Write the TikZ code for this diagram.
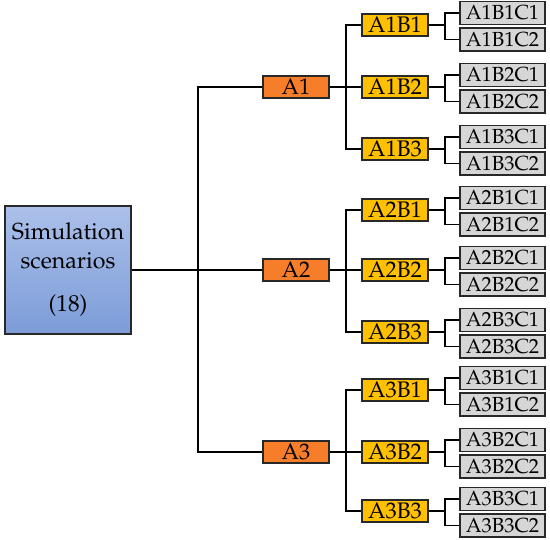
\documentclass[tikz,border=0pt]{standalone}
\usepackage[T1]{fontenc}
\usepackage{mathpazo}
\definecolor{rootTop}{RGB}{172,192,234}
\definecolor{rootBot}{RGB}{124,156,216}
\definecolor{aFill}{RGB}{246,125,42}
\definecolor{bFill}{RGB}{255,192,0}
\definecolor{cFill}{RGB}{214,214,214}
\definecolor{boxLine}{RGB}{40,40,40}
\tikzset{
  rootbox/.style={draw=boxLine, line width=1pt, top color=rootTop, bottom color=rootBot,
    minimum width=2.52cm, minimum height=2.56cm, align=center, inner sep=0pt,
    font=\fontsize{13.2}{16}\selectfont},
  abox/.style={draw=boxLine, line width=1pt, fill=aFill, minimum width=1.32cm,
    minimum height=0.44cm, inner sep=0pt, font=\fontsize{12.8}{14}\selectfont},
  bbox/.style={abox, fill=bFill},
  cbox/.style={abox, fill=cFill, minimum width=1.70cm, minimum height=0.46cm,
    font=\fontsize{11.6}{14}\selectfont},
  link/.style={draw=black, line width=1.1pt}
}
\begin{document}
\begin{tikzpicture}
  \useasboundingbox (0.00, 0.00) rectangle (11.00, -10.80);
  % root
  \node[rootbox] (sim) at (1.36, -5.40) {Simulation\\scenarios\\[9pt](18)};
  % first level
  \node[abox] (a1) at (5.92, -1.74) {A1};
  \node[abox] (a2) at (5.92, -5.40) {A2};
  \node[abox] (a3) at (5.92, -9.04) {A3};
  % second level
  \node[bbox] (a1b1) at (7.90, -0.50) {A1B1};
  \node[bbox] (a1b2) at (7.90, -1.74) {A1B2};
  \node[bbox] (a1b3) at (7.90, -2.98) {A1B3};
  \node[bbox] (a2b1) at (7.90, -4.20) {A2B1};
  \node[bbox] (a2b2) at (7.90, -5.40) {A2B2};
  \node[bbox] (a2b3) at (7.90, -6.64) {A2B3};
  \node[bbox] (a3b1) at (7.90, -7.80) {A3B1};
  \node[bbox] (a3b2) at (7.90, -9.04) {A3B2};
  \node[bbox] (a3b3) at (7.90, -10.22) {A3B3};
  % third level
  \node[cbox] (a1b1c1) at (10.05, -0.26) {A1B1C1};
  \node[cbox] (a1b1c2) at (10.05, -0.79) {A1B1C2};
  \node[cbox] (a1b2c1) at (10.05, -1.50) {A1B2C1};
  \node[cbox] (a1b2c2) at (10.05, -2.03) {A1B2C2};
  \node[cbox] (a1b3c1) at (10.05, -2.74) {A1B3C1};
  \node[cbox] (a1b3c2) at (10.05, -3.27) {A1B3C2};
  \node[cbox] (a2b1c1) at (10.05, -3.96) {A2B1C1};
  \node[cbox] (a2b1c2) at (10.05, -4.49) {A2B1C2};
  \node[cbox] (a2b2c1) at (10.05, -5.16) {A2B2C1};
  \node[cbox] (a2b2c2) at (10.05, -5.69) {A2B2C2};
  \node[cbox] (a2b3c1) at (10.05, -6.40) {A2B3C1};
  \node[cbox] (a2b3c2) at (10.05, -6.93) {A2B3C2};
  \node[cbox] (a3b1c1) at (10.05, -7.56) {A3B1C1};
  \node[cbox] (a3b1c2) at (10.05, -8.09) {A3B1C2};
  \node[cbox] (a3b2c1) at (10.05, -8.80) {A3B2C1};
  \node[cbox] (a3b2c2) at (10.05, -9.33) {A3B2C2};
  \node[cbox] (a3b3c1) at (10.05, -9.98) {A3B3C1};
  \node[cbox] (a3b3c2) at (10.05, -10.51) {A3B3C2};
  % root to A
  \draw[link] (sim.east) -- ++(1.32, 0) |- (a1.west);
  \draw[link] (sim.east) -- (a2.west);
  \draw[link] (sim.east) -- ++(1.32, 0) |- (a3.west);
  % A to B
  \draw[link] (a1.east) -- ++(0.33, 0) |- (a1b1.west);
  \draw[link] (a1.east) -- (a1b2.west);
  \draw[link] (a1.east) -- ++(0.33, 0) |- (a1b3.west);
  \draw[link] (a2.east) -- ++(0.33, 0) |- (a2b1.west);
  \draw[link] (a2.east) -- (a2b2.west);
  \draw[link] (a2.east) -- ++(0.33, 0) |- (a2b3.west);
  \draw[link] (a3.east) -- ++(0.33, 0) |- (a3b1.west);
  \draw[link] (a3.east) -- (a3b2.west);
  \draw[link] (a3.east) -- ++(0.33, 0) |- (a3b3.west);
  % B to C
  \draw[link] (a1b1.east) -- ++(0.33, 0) |- (a1b1c1.west);
  \draw[link] (a1b1.east) -- ++(0.33, 0) |- (a1b1c2.west);
  \draw[link] (a1b2.east) -- ++(0.33, 0) |- (a1b2c1.west);
  \draw[link] (a1b2.east) -- ++(0.33, 0) |- (a1b2c2.west);
  \draw[link] (a1b3.east) -- ++(0.33, 0) |- (a1b3c1.west);
  \draw[link] (a1b3.east) -- ++(0.33, 0) |- (a1b3c2.west);
  \draw[link] (a2b1.east) -- ++(0.33, 0) |- (a2b1c1.west);
  \draw[link] (a2b1.east) -- ++(0.33, 0) |- (a2b1c2.west);
  \draw[link] (a2b2.east) -- ++(0.33, 0) |- (a2b2c1.west);
  \draw[link] (a2b2.east) -- ++(0.33, 0) |- (a2b2c2.west);
  \draw[link] (a2b3.east) -- ++(0.33, 0) |- (a2b3c1.west);
  \draw[link] (a2b3.east) -- ++(0.33, 0) |- (a2b3c2.west);
  \draw[link] (a3b1.east) -- ++(0.33, 0) |- (a3b1c1.west);
  \draw[link] (a3b1.east) -- ++(0.33, 0) |- (a3b1c2.west);
  \draw[link] (a3b2.east) -- ++(0.33, 0) |- (a3b2c1.west);
  \draw[link] (a3b2.east) -- ++(0.33, 0) |- (a3b2c2.west);
  \draw[link] (a3b3.east) -- ++(0.33, 0) |- (a3b3c1.west);
  \draw[link] (a3b3.east) -- ++(0.33, 0) |- (a3b3c2.west);
\end{tikzpicture}
\end{document}
